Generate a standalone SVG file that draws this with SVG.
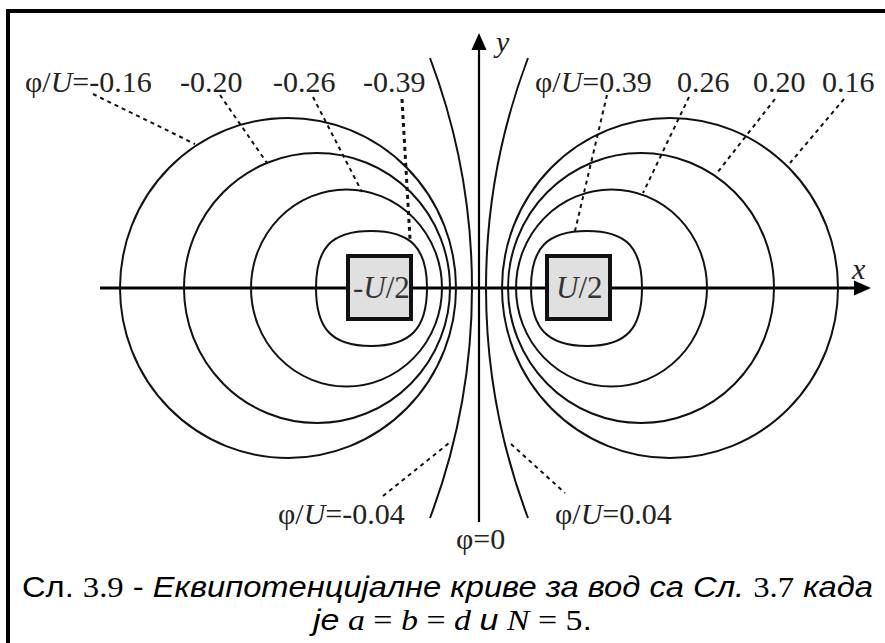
<svg xmlns="http://www.w3.org/2000/svg" width="885" height="643" viewBox="0 0 885 643">
<style>
.crv{fill:none;stroke:#111;stroke-width:2}
.ax{fill:none;stroke:#000;stroke-width:3}
.ld{fill:none;stroke:#111;stroke-width:2;stroke-dasharray:4 4}
.lbl{font-family:"Liberation Serif","Times New Roman",serif;font-size:30px;fill:#222}
.box{fill:#e0e0e0;stroke:#111;stroke-width:4}
.bt{font-family:"Liberation Serif","Times New Roman",serif;font-size:31px;fill:#333}
.cap{font-family:"Liberation Sans",Arial,sans-serif;font-size:29px;fill:#000}
.cap .ser{font-family:"Liberation Serif","Times New Roman",serif}
</style>
<rect width="885" height="643" fill="#fff"/>
<path d="M8,643 V11 H885" fill="none" stroke="#000" stroke-width="4"/>

<g id="connectors">
  <line class="ax" x1="100" y1="288" x2="856" y2="288"/>
  <polygon points="871,288 854,280.5 854,295.5" fill="#000"/>
  <line x1="479" y1="522" x2="479" y2="48" stroke="#000" stroke-width="2.2"/>
  <polygon points="479,33 471.5,50 486.5,50" fill="#000"/>

  <ellipse class="crv" cx="670" cy="288" rx="168" ry="170"/>
  <ellipse class="crv" cx="641" cy="288" rx="133" ry="135"/>
  <ellipse class="crv" cx="611.5" cy="288" rx="95.5" ry="98.5"/>
  <path class="crv" d="M642,288 C642,248 627,231 587,231 C547,231 531,248 531,288 C531,328 547,346 587,346 C627,346 642,328 642,288 Z"/>
  <ellipse class="crv" cx="288" cy="288" rx="168" ry="170"/>
  <ellipse class="crv" cx="317" cy="288" rx="133" ry="135"/>
  <ellipse class="crv" cx="346.5" cy="288" rx="95.5" ry="98.5"/>
  <path class="crv" d="M316,288 C316,248 331,231 371,231 C411,231 427,248 427,288 C427,328 411,346 371,346 C331,346 316,328 316,288 Z"/>
  <path class="crv" d="M430,58 A650.8 650.8 0 0 1 430,518"/>
  <path class="crv" d="M528,58 A650.8 650.8 0 0 0 528,518"/>

  <line class="ld" x1="93" y1="94" x2="195" y2="144"/>
  <line class="ld" x1="220" y1="95" x2="267" y2="163"/>
  <line class="ld" x1="313" y1="97" x2="362" y2="192"/>
  <line class="ld" x1="402" y1="99" x2="410" y2="239" style="stroke-width:3"/>
  <line class="ld" x1="607" y1="95" x2="575" y2="231"/>
  <line class="ld" x1="689" y1="97" x2="643" y2="193"/>
  <line class="ld" x1="775" y1="99" x2="717" y2="173"/>
  <line class="ld" x1="844" y1="99" x2="790" y2="163"/>
  <line class="ld" x1="383" y1="496" x2="449" y2="443"/>
  <line class="ld" x1="511" y1="444" x2="565" y2="493"/>
</g>

<g id="conductor-left">
  <rect class="box" x="348" y="256" width="63" height="63"/>
  <text class="bt" x="353" y="298">-<tspan font-style="italic">U</tspan>/2</text>
</g>
<g id="conductor-right">
  <rect class="box" x="547" y="256" width="63" height="63"/>
  <text class="bt" x="556" y="298"><tspan font-style="italic">U</tspan>/2</text>
</g>

<g id="labels">
  <text class="lbl" x="496" y="52" font-style="italic">y</text>
  <text class="lbl" x="852" y="279" font-style="italic">x</text>
  <text class="lbl" x="25" y="92">φ/<tspan font-style="italic">U</tspan>=-0.16</text>
  <text class="lbl" x="180" y="92">-0.20</text>
  <text class="lbl" x="273" y="92">-0.26</text>
  <text class="lbl" x="363" y="92">-0.39</text>
  <text class="lbl" x="535" y="92">φ/<tspan font-style="italic">U</tspan>=0.39</text>
  <text class="lbl" x="677" y="92">0.26</text>
  <text class="lbl" x="753" y="92">0.20</text>
  <text class="lbl" x="822" y="92">0.16</text>
  <text class="lbl" x="278" y="524">φ/<tspan font-style="italic">U</tspan>=-0.04</text>
  <text class="lbl" x="555" y="524">φ/<tspan font-style="italic">U</tspan>=0.04</text>
  <text class="lbl" x="456" y="549">φ=0</text>
</g>

<g id="caption">
  <text class="cap" x="22" y="597" textLength="851" lengthAdjust="spacingAndGlyphs">Сл. <tspan class="ser">3.9</tspan> - <tspan font-style="italic">Еквипотенцијалне криве за вод са Сл. </tspan><tspan class="ser">3.7</tspan><tspan font-style="italic"> када</tspan></text>
  <text class="cap" x="313" y="630" textLength="279" lengthAdjust="spacingAndGlyphs"><tspan font-style="italic">је</tspan><tspan class="ser"> <tspan font-style="italic">a</tspan> = <tspan font-style="italic">b</tspan> = <tspan font-style="italic">d</tspan>  </tspan><tspan font-style="italic">и</tspan><tspan class="ser"> <tspan font-style="italic">N</tspan> = 5</tspan>.</text>
</g>
</svg>
